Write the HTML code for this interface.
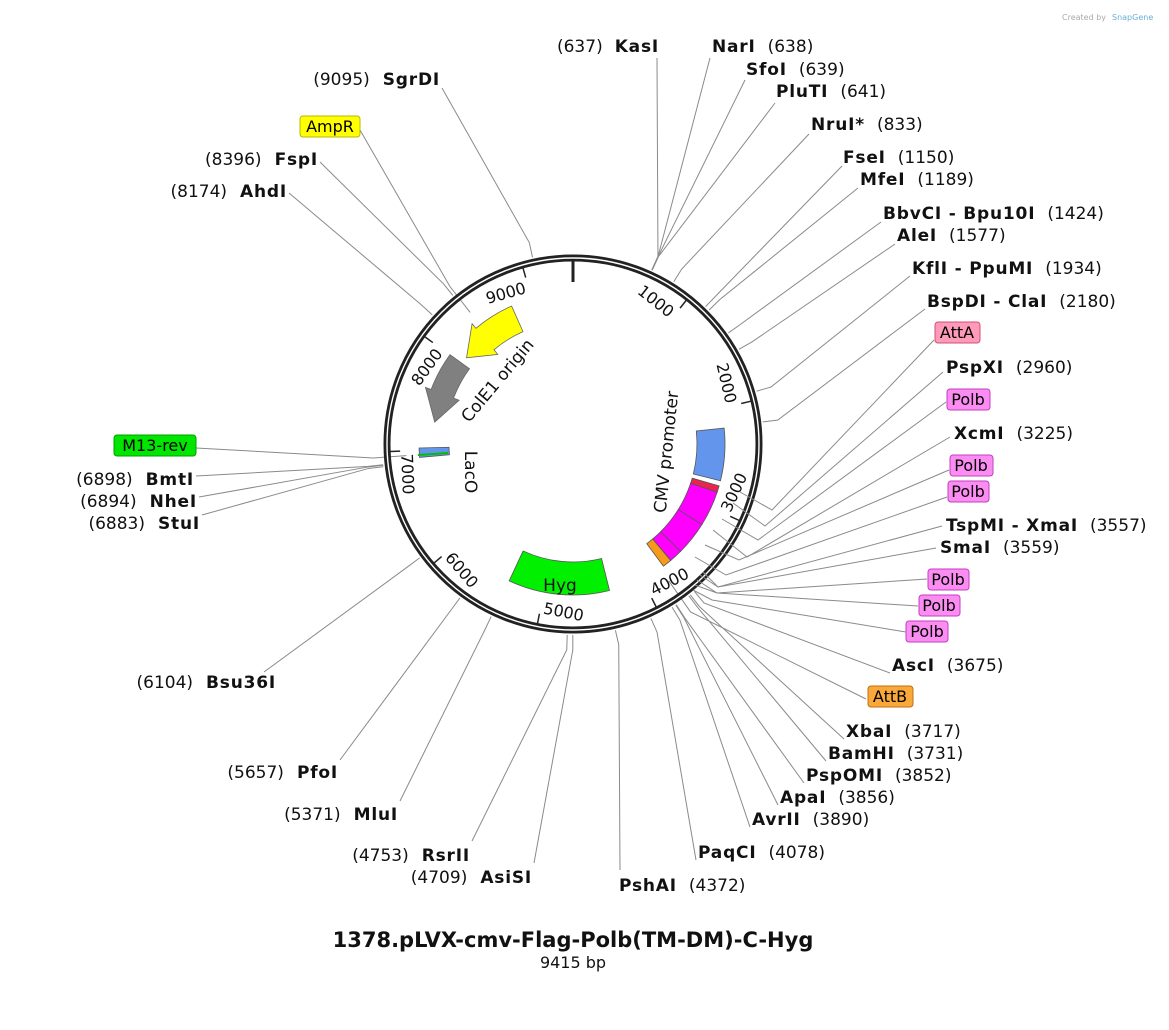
<!DOCTYPE html>
<html><head><meta charset="utf-8"><style>
html,body{margin:0;padding:0;background:#fff;}
svg{display:block;font-family:"DejaVu Sans","Liberation Sans",sans-serif;}
.l{font-size:17px;fill:#111;}
.b{font-weight:bold;letter-spacing:0.8px;}
</style></head><body>
<svg id="s" width="1169" height="1030" viewBox="0 0 1169 1030" xmlns="http://www.w3.org/2000/svg">
<text x="1062" y="20" font-size="8" fill="#aaa">Created by</text><text x="1112" y="20" font-size="8" fill="#6aaed6">SnapGene</text>
<g id="lines" stroke="#8a8a8a" stroke-width="1" fill="none"></g>
<g id="feat"></g>
<circle cx="573" cy="444" r="186" fill="none" stroke="#222" stroke-width="7"/>
<circle cx="573" cy="444" r="186" fill="none" stroke="#fff" stroke-width="1.4"/>
<line x1="573" y1="260" x2="573" y2="282" stroke="#222" stroke-width="3"/>
<g id="ticks"></g>
<text class="l" transform="translate(498,381) rotate(-50)" text-anchor="middle" dominant-baseline="middle">ColE1 origin</text>
<text class="l" transform="translate(667,452) rotate(-84)" text-anchor="middle" dominant-baseline="middle">CMV promoter</text>
<text class="l" transform="translate(470,472) rotate(90)" text-anchor="middle" dominant-baseline="middle">LacO</text>
<text class="l" x="560" y="591" text-anchor="middle" font-size="18">Hyg</text>
<g class="l">
<text x="659" y="52" text-anchor="end">(637)<tspan class="b" dx="12">KasI</tspan></text>
<text x="712" y="52"><tspan class="b">NarI</tspan><tspan dx="12">(638)</tspan></text>
<text x="746" y="75"><tspan class="b">SfoI</tspan><tspan dx="12">(639)</tspan></text>
<text x="776" y="97"><tspan class="b">PluTI</tspan><tspan dx="12">(641)</tspan></text>
<text x="811" y="130"><tspan class="b">NruI*</tspan><tspan dx="12">(833)</tspan></text>
<text x="843" y="163"><tspan class="b">FseI</tspan><tspan dx="12">(1150)</tspan></text>
<text x="860" y="185"><tspan class="b">MfeI</tspan><tspan dx="12">(1189)</tspan></text>
<text x="883" y="219"><tspan class="b">BbvCI - Bpu10I</tspan><tspan dx="12">(1424)</tspan></text>
<text x="897" y="241"><tspan class="b">AleI</tspan><tspan dx="12">(1577)</tspan></text>
<text x="912" y="274"><tspan class="b">KflI - PpuMI</tspan><tspan dx="12">(1934)</tspan></text>
<text x="927" y="307"><tspan class="b">BspDI - ClaI</tspan><tspan dx="12">(2180)</tspan></text>
<text x="946" y="373"><tspan class="b">PspXI</tspan><tspan dx="12">(2960)</tspan></text>
<text x="954" y="439"><tspan class="b">XcmI</tspan><tspan dx="12">(3225)</tspan></text>
<text x="946" y="531"><tspan class="b">TspMI - XmaI</tspan><tspan dx="12">(3557)</tspan></text>
<text x="940" y="553"><tspan class="b">SmaI</tspan><tspan dx="12">(3559)</tspan></text>
<text x="892" y="671"><tspan class="b">AscI</tspan><tspan dx="12">(3675)</tspan></text>
<text x="846" y="737"><tspan class="b">XbaI</tspan><tspan dx="12">(3717)</tspan></text>
<text x="828" y="759"><tspan class="b">BamHI</tspan><tspan dx="12">(3731)</tspan></text>
<text x="806" y="781"><tspan class="b">PspOMI</tspan><tspan dx="12">(3852)</tspan></text>
<text x="780" y="803"><tspan class="b">ApaI</tspan><tspan dx="12">(3856)</tspan></text>
<text x="752" y="825"><tspan class="b">AvrII</tspan><tspan dx="12">(3890)</tspan></text>
<text x="698" y="858"><tspan class="b">PaqCI</tspan><tspan dx="12">(4078)</tspan></text>
<text x="619" y="891"><tspan class="b">PshAI</tspan><tspan dx="12">(4372)</tspan></text>
<text x="532" y="883" text-anchor="end">(4709)<tspan class="b" dx="13">AsiSI</tspan></text>
<text x="470" y="861" text-anchor="end">(4753)<tspan class="b" dx="13">RsrII</tspan></text>
<text x="398" y="820" text-anchor="end">(5371)<tspan class="b" dx="13">MluI</tspan></text>
<text x="338" y="778" text-anchor="end">(5657)<tspan class="b" dx="13">PfoI</tspan></text>
<text x="276" y="688" text-anchor="end">(6104)<tspan class="b" dx="13">Bsu36I</tspan></text>
<text x="200" y="529" text-anchor="end">(6883)<tspan class="b" dx="13">StuI</tspan></text>
<text x="197" y="507" text-anchor="end">(6894)<tspan class="b" dx="13">NheI</tspan></text>
<text x="194" y="485" text-anchor="end">(6898)<tspan class="b" dx="13">BmtI</tspan></text>
<text x="287" y="197" text-anchor="end">(8174)<tspan class="b" dx="13">AhdI</tspan></text>
<text x="318" y="165" text-anchor="end">(8396)<tspan class="b" dx="13">FspI</tspan></text>
<text x="440" y="85" text-anchor="end">(9095)<tspan class="b" dx="13">SgrDI</tspan></text>
</g>
<g font-size="16">
<rect x="300" y="116" width="60" height="21" rx="3" fill="#ffff00" stroke="#b8b800"/><text x="330" y="132" text-anchor="middle">AmpR</text>
<rect x="114" y="435" width="82" height="21" rx="3" fill="#00e600" stroke="#00a000"/><text x="155" y="451" text-anchor="middle">M13-rev</text>
<rect x="935" y="322" width="45" height="21" rx="3" fill="#ff9ab8" stroke="#d0507a"/><text x="957" y="338" text-anchor="middle">AttA</text>
<rect x="947" y="389" width="43" height="21" rx="3" fill="#fa8cf2" stroke="#c040c0"/><text x="968" y="405" text-anchor="middle">Polb</text>
<rect x="950" y="455" width="43" height="21" rx="3" fill="#fa8cf2" stroke="#c040c0"/><text x="971" y="471" text-anchor="middle">Polb</text>
<rect x="948" y="481" width="41" height="21" rx="3" fill="#fa8cf2" stroke="#c040c0"/><text x="968" y="497" text-anchor="middle">Polb</text>
<rect x="928" y="569" width="41" height="21" rx="3" fill="#fa8cf2" stroke="#c040c0"/><text x="948" y="585" text-anchor="middle">Polb</text>
<rect x="919" y="595" width="41" height="21" rx="3" fill="#fa8cf2" stroke="#c040c0"/><text x="939" y="611" text-anchor="middle">Polb</text>
<rect x="906" y="621" width="42" height="21" rx="3" fill="#fa8cf2" stroke="#c040c0"/><text x="927" y="637" text-anchor="middle">Polb</text>
<rect x="868" y="686" width="45" height="21" rx="3" fill="#f9a839" stroke="#c07010"/><text x="890" y="702" text-anchor="middle">AttB</text>
</g>
<g stroke="#8a8a8a" stroke-width="1" fill="none">
<polyline points="740,492 772,510 934,340"/>
<polyline points="733,503 765,526 943,372"/>
<polyline points="722,519 758,540 946,402"/>
<polyline points="713,530 747,557 950,437"/>
<polyline points="705,545 739,560 949,470"/>
<polyline points="695,557 726,575 947,497"/>
<polyline points="703,572 718,587 942,526"/>
<polyline points="700,575 718,587 936,548"/>
<polyline points="697,580 717,593 927,579"/>
<polyline points="695,585 717,593 918,606"/>
<polyline points="693,590 712,600 906,632"/>
</g>
<text x="573" y="947" text-anchor="middle" font-size="21" font-weight="bold" fill="#111">1378.pLVX-cmv-Flag-Polb(TM-DM)-C-Hyg</text>
<text x="573" y="968" text-anchor="middle" font-size="16" fill="#111">9415 bp</text>
</svg>
<script>
(function(){
var CX=573,CY=444,NS="http://www.w3.org/2000/svg";
function P(a,r){var t=a*Math.PI/180;return [CX+r*Math.sin(t),CY-r*Math.cos(t)];}
function el(n,at,p){var e=document.createElementNS(NS,n);for(var k in at)e.setAttribute(k,at[k]);document.getElementById(p).appendChild(e);return e;}
function A(p){return p*360/9415;}
var enz=[[637,657,58],[638,710,58],[639,745,80],[641,775,103],[833,809,134],[1150,842,166],[1189,858,188],[1424,881,222],[1577,895,244],[1934,910,276],[2180,925,309],[3675,890,673],[3717,844,739],[3731,826,761],[3852,804,783],[3856,778,805],[3890,750,827],[4078,696,860],[4372,620,870],[4709,534,863],[4753,472,841],[5371,400,801],[5657,340,760],[6104,264,672],[6883,202,515],[6894,199,497],[6898,196,476],[8174,289,193],[8396,320,162],[9095,442,88]];
enz.forEach(function(e){var a=A(e[0]),p1=P(a,191),p2=P(a,206);el("polyline",{points:p1.join(",")+" "+p2.join(",")+" "+e[1]+","+e[2]},"lines");});
var fl=[[145,866,699],[266,196,448],[322,360,130]];
fl.forEach(function(e){var p1=P(e[0],167),p2=P(e[0],e[0]>200?200:205);el("polyline",{points:p1.join(",")+" "+p2.join(",")+" "+e[1]+","+e[2]},"lines");});
function arc(a1,a2,r1,r2,fill,stroke){var a=P(a1,r2),b=P(a2,r2),c=P(a2,r1),d=P(a1,r1);var lg=Math.abs(a2-a1)>180?1:0;
el("path",{d:"M"+a+" A"+r2+","+r2+" 0 "+lg+" 1 "+b+" L"+c+" A"+r1+","+r1+" 0 "+lg+" 0 "+d+" Z",fill:fill,stroke:stroke||"#555","stroke-width":"0.8"},"feat");}
arc(166,205,118,151,"#00f000");
arc(84,104,124,152,"#6495ed");
arc(106,108.5,124,152,"#e8254f");
arc(108.5,122,124,152,"#ff00ff");arc(122,135,124,152,"#ff00ff");arc(135,140,124,152,"#ff00ff");
arc(140,143.5,124,152,"#f59a1b");
function arrowCCW(aTail,aNeck,aTip,r1,r2,fill){var w=6;var rm=(r1+r2)/2;
var pts=[P(aTail,r2),P(aNeck,r2),P(aNeck,r2+w),P(aTip,rm),P(aNeck,r1-w),P(aNeck,r1),P(aTail,r1)];
var d="M"+pts[0]+" A"+r2+","+r2+" 0 0 0 "+pts[1]+" L"+pts[2]+" L"+pts[3]+" L"+pts[4]+" L"+pts[5]+" A"+r1+","+r1+" 0 0 1 "+pts[6]+" Z";
el("path",{d:d,fill:fill,stroke:"#666","stroke-width":"0.8"},"feat");}
arrowCCW(336,320,309,123,151,"#ffff00");
arrowCCW(306,291,279,128,152,"#808080");
arc(265,268.5,124,154,"#6495ed");
el("line",{x1:418,y1:455,x2:448,y2:453,stroke:"#00c000","stroke-width":"2"},"feat");
for(var k=1;k<=9;k++){var a=A(k*1000);var p1=P(a,183),p2=P(a,173);
el("line",{x1:p1[0],y1:p1[1],x2:p2[0],y2:p2[1],stroke:"#222","stroke-width":"1.5"},"ticks");
var t;var isTop=(a<90||a>270);
if(isTop){t=el("text",{transform:"translate("+CX+","+CY+") rotate("+a+")",x:-3,y:-158,"text-anchor":"end","font-size":"16",fill:"#111"},"ticks");}
else{t=el("text",{transform:"translate("+CX+","+CY+") rotate("+(a-180)+")",x:3,y:172,"text-anchor":"start","font-size":"16",fill:"#111"},"ticks");}
t.textContent=String(k*1000);}
})();
</script>
</body></html>
